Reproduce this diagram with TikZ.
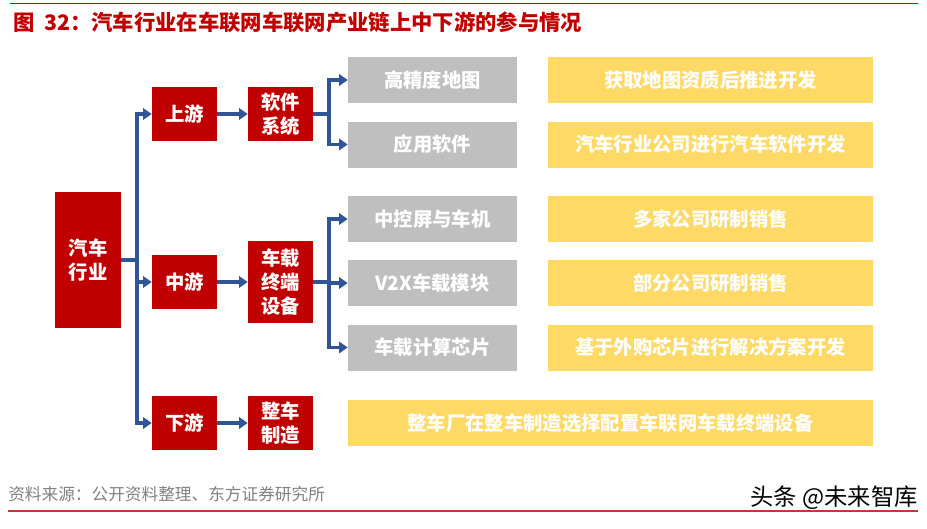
\documentclass[tikz,border=0pt]{standalone}
\usepackage{fontspec}
\setmainfont{Noto Sans CJK SC}
\usetikzlibrary{arrows.meta}
\definecolor{dred}{HTML}{C00000}
\definecolor{gbox}{HTML}{BFBFBF}
\definecolor{ybox}{HTML}{FFD966}
\definecolor{lblue}{HTML}{2F5597}
\definecolor{srcgray}{HTML}{808080}
\tikzset{
  redbox/.style={fill=dred, text=white, align=center, inner sep=0pt,
    font=\fontsize{14.5}{18}\selectfont\bfseries},
  graybox/.style={fill=gbox, text=white, inner sep=0pt,
    minimum width=126.75pt, minimum height=34.5pt,
    font=\fontsize{14.5}{18}\selectfont\bfseries},
  yelbox/.style={fill=ybox, text=white, inner sep=0pt,
    minimum width=243.75pt, minimum height=34.5pt,
    font=\fontsize{14.5}{18}\selectfont\bfseries},
  link/.style={draw=lblue, line width=2.3pt},
  arr/.style={link, -{Triangle[length=6.5pt,width=8.5pt]}}
}
\begin{document}
\begin{tikzpicture}[x=0.75pt,y=-0.75pt]
\useasboundingbox (0,0) rectangle (927,528);
% header / footer lines
\draw[dred, line width=0.8pt] (10,3.5) -- (918,3.5);
\draw[dred!80, line width=1.1pt] (8,511) -- (918,511);
\node[anchor=west, text=dred, inner sep=0pt,
  font=\fontsize{16}{18}\selectfont\bfseries] (title) at (13,22)
  {图\hspace{0.45em}32：汽车行业在车联网车联网产业链上中下游的参与情况};
\node[anchor=west, text=srcgray, inner sep=0pt,
  font=\fontsize{12.5}{14}\selectfont] (src) at (8,494)
  {资料来源：公开资料整理、东方证券研究所};
\node[anchor=east, text=black, inner sep=0pt,
  font=\fontsize{17.5}{20}\selectfont] (wm) at (918,498)
  {头条 @未来智库};
% level 0
\node[redbox, minimum width=49.5pt, minimum height=102pt] (ind) at (88,260) {汽车\\行业};
% level 1
\node[redbox, minimum width=48.75pt, minimum height=40.5pt] (up) at (184.5,114) {上游};
\node[redbox, minimum width=48.75pt, minimum height=40.5pt] (mid) at (184.5,282) {中游};
\node[redbox, minimum width=48.75pt, minimum height=40.5pt] (down) at (184.5,423) {下游};
% level 2
\node[redbox, minimum width=48.75pt, minimum height=40.5pt] (soft) at (280.5,114) {软件\\系统};
\node[redbox, minimum width=48.75pt, minimum height=61.5pt] (term) at (280.5,282) {车载\\终端\\设备};
\node[redbox, minimum width=48.75pt, minimum height=40.5pt] (make) at (280.5,423) {整车\\制造};
% gray boxes
\node[graybox] (g1) at (432.5,80) {高精度地图};
\node[graybox] (g2) at (432.5,144.5) {应用软件};
\node[graybox] (g3) at (432.5,219) {中控屏与车机};
\node[graybox] (g4) at (432.5,283) {V2X车载模块};
\node[graybox] (g5) at (432.5,347.5) {车载计算芯片};
% yellow boxes
\node[yelbox] (y1) at (710.5,80) {获取地图资质后推进开发};
\node[yelbox] (y2) at (710.5,144.5) {汽车行业公司进行汽车软件开发};
\node[yelbox] (y3) at (710.5,219) {多家公司研制销售};
\node[yelbox] (y4) at (710.5,283) {部分公司研制销售};
\node[yelbox] (y5) at (710.5,347.5) {基于外购芯片进行解决方案开发};
\node[yelbox, minimum width=393.75pt] (y6) at (610.5,423) {整车厂在整车制造选择配置车联网车载终端设备};
% connectors
\coordinate (t0) at (137,260);
\draw[link] (ind.east) -- (t0);
\draw[arr] (t0) |- (up.west);
\draw[arr] (t0) |- (mid.west);
\draw[arr] (t0) |- (down.west);
\draw[arr] (up) -- (soft);
\draw[arr] (mid) -- (term);
\draw[arr] (down) -- (make);
\coordinate (b1) at (329,114);
\draw[link] (soft.east) -- (b1);
\draw[arr] (b1) |- (g1.west);
\draw[arr] (b1) |- (g2.west);
\coordinate (b2) at (329,282);
\draw[link] (term.east) -- (b2);
\draw[arr] (b2) |- (g3.west);
\draw[arr] (b2) |- (g4.west);
\draw[arr] (b2) |- (g5.west);
\end{tikzpicture}
\end{document}
